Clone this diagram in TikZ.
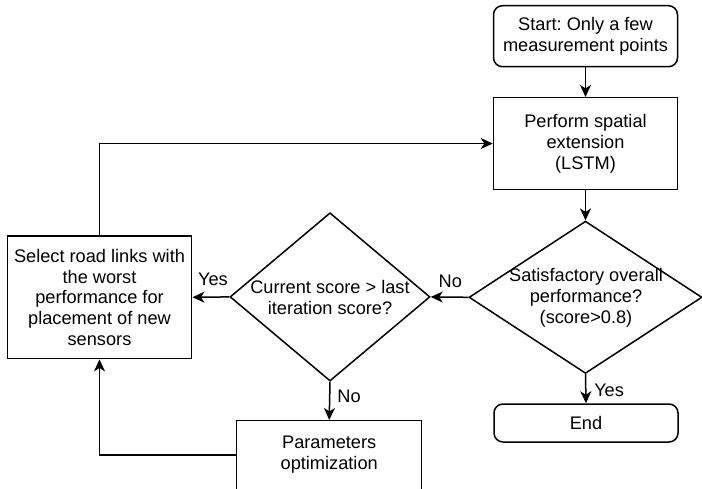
\documentclass[tikz,border=0pt]{standalone}
\usepackage{fontspec}
\setmainfont{Liberation Sans}
\usetikzlibrary{shapes.geometric,arrows.meta}
\frenchspacing

\tikzset{
  txt/.style={font=\fontsize{18.2}{20.8}\selectfont, align=center, inner sep=0pt},
  lbl/.style={font=\fontsize{18.2}{20.8}\selectfont, inner sep=0pt},
  procbox/.style={draw, line width=1.5pt, rectangle, minimum width=184pt, inner sep=0pt, txt},
  termbox/.style={procbox, rounded corners=9pt},
  decision/.style={draw, line width=1.5pt, diamond, inner sep=0pt},
  flow/.style={line width=1.5pt, -{Stealth[length=12pt,width=11pt,inset=3.5pt]}}
}

\begin{document}
\begin{tikzpicture}[x=1pt, y=-1pt]
\useasboundingbox (0,0) rectangle (702,488);

% process steps
\node[termbox, minimum height=61pt] (start) at (585.5,36.2) {Start: Only a few\\measurement points};
\node[procbox, minimum height=91.6pt] (perform) at (585.5,143.5) {Perform spatial\\extension\\(LSTM)};
\node[decision, minimum width=233pt, minimum height=152.3pt] (sat) at (585.5,297.3) {};
\node[txt] (sat-text) at (586,297.8) {Satisfactory overall\\performance?\\(score>0.8)};
\node[termbox, minimum height=38pt] (end) at (586,423) {End};

\node[decision, minimum width=200pt, minimum height=168.3pt] (cur) at (330,296.9) {};
\node[txt] (cur-text) at (330,297.5) {Current score > last\\iteration score?};

\node[procbox, minimum width=184.4pt, minimum height=122.7pt] (select) at (99.5,297.3)
  {Select road links with\\the worst\\performance for\\placement of new\\sensors};
\node[procbox, minimum width=185pt, minimum height=68.6pt] (params) at (329.2,455)
  {Parameters\\optimization};

% connectors
\draw[flow] (start) -- (perform);
\draw[flow] (perform) -- (sat);
\draw[flow] (sat.south) -- node[lbl, pos=0, anchor=base west, xshift=8pt, yshift=-22pt] (lyes1) {Yes} (end.north);
\draw[flow] (sat.west) -- node[lbl, pos=0, anchor=base east, xshift=-5.5pt, yshift=10pt] (lno1) {No} (cur.east);
\draw[flow] (cur.west) -- node[lbl, pos=0, anchor=base east, xshift=-0.7pt, yshift=11pt] (lyes2) {Yes} (select.east);
\draw[flow] (cur.south) -- node[lbl, pos=0, anchor=base west, xshift=6.7pt, yshift=-21pt] (lno2) {No} (params.north);
\draw[flow] (params.west) -| (select.south);
\draw[flow] (select.north) |- (perform.west);
\end{tikzpicture}
\end{document}
